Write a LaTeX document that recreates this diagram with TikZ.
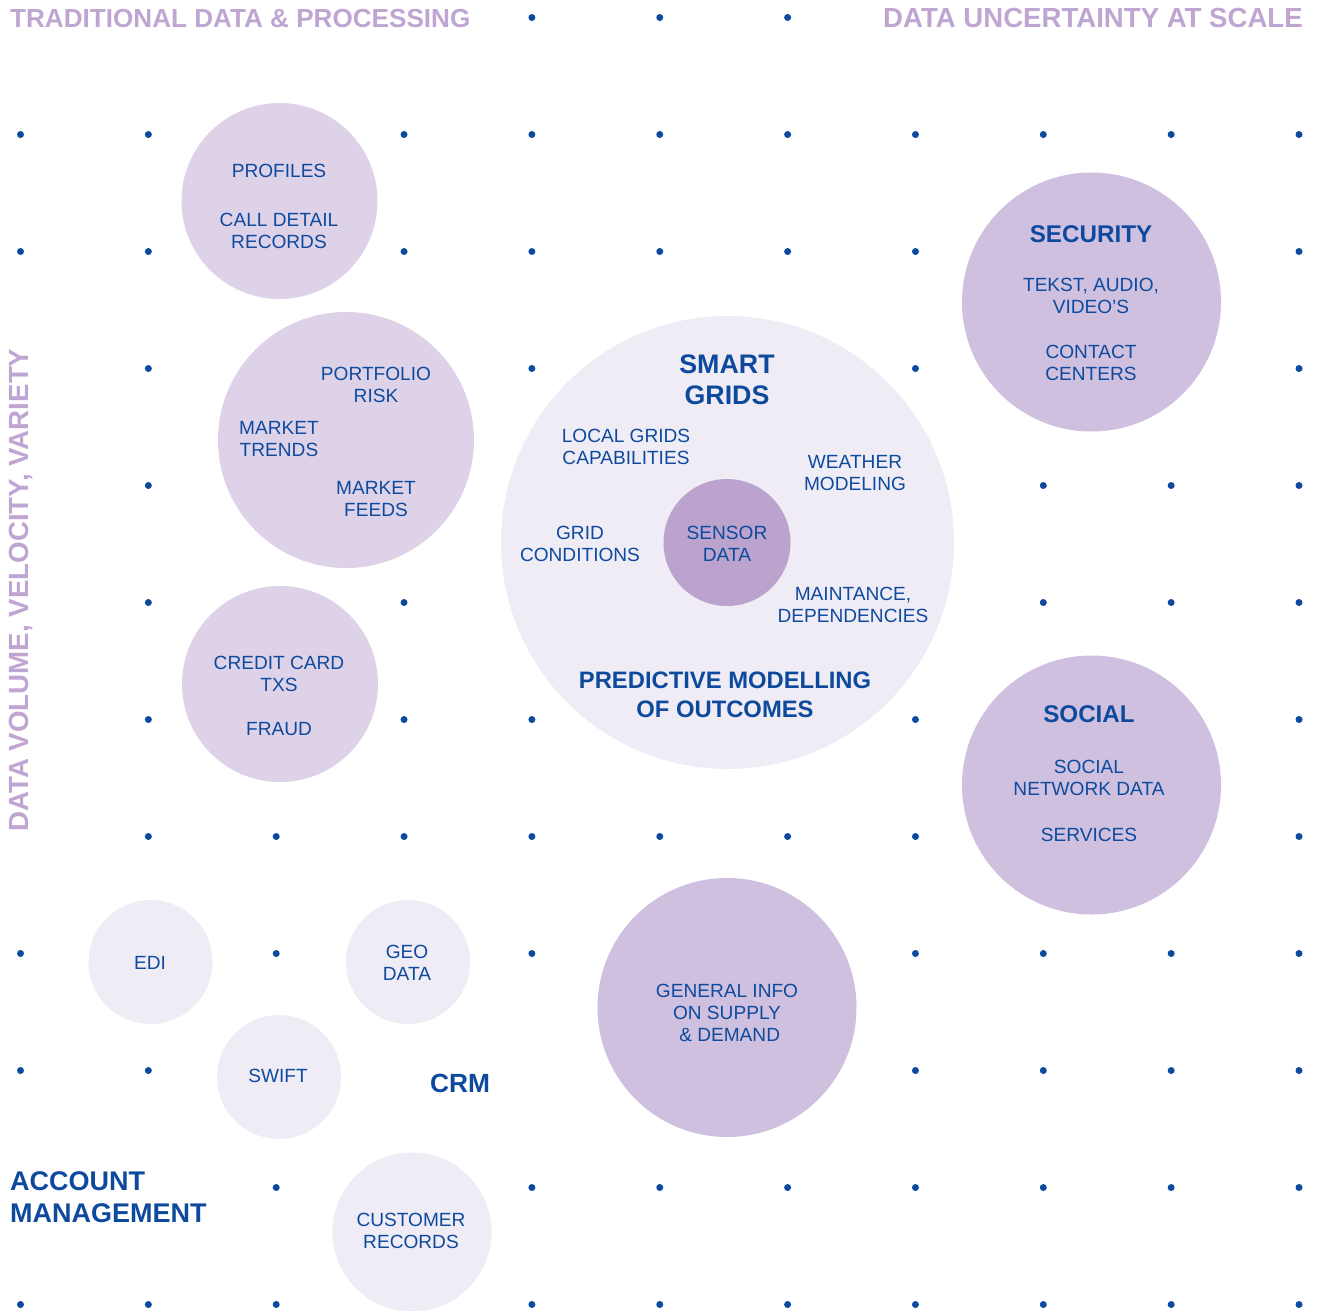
\documentclass[tikz,border=0pt]{standalone}
\usepackage{fontspec}
\setmainfont{Liberation Sans}
\definecolor{tblue}{HTML}{0D4A9E}
\definecolor{hpurple}{HTML}{BFA5D2}
\definecolor{cmid}{HTML}{DED2E9}
\definecolor{cdark}{HTML}{CFC0DF}
\definecolor{clight}{HTML}{EFECF5}
\definecolor{csensor}{HTML}{BBA3CD}
\begin{document}
\begin{tikzpicture}[x=1pt,y=-1pt,
  bubble/.style={circle,inner sep=0pt,draw=none},
  lbl/.style={text=tblue,align=center,inner sep=0pt,font=\fontsize{19.1}{22}\selectfont},
  ttl/.style={text=tblue,align=center,inner sep=0pt,font=\fontsize{24.2}{29}\selectfont\bfseries},
  hdr/.style={text=hpurple,inner sep=0pt,font=\fontsize{26.1}{30}\selectfont\bfseries},
  gdot/.style={circle,fill=tblue,inner sep=0pt,minimum size=7pt}]
\useasboundingbox (0,0) rectangle (1317,1310);
% grid dots
\foreach \j/\cols in {0/{4,5,6},1/{0,1,3,4,5,6,7,8,9,10},2/{0,1,3,4,5,6,7,10},3/{1,4,7,10},4/{1,8,9,10},5/{1,3,8,9,10},6/{1,3,4,7,10},7/{1,2,3,4,5,6,7,10},8/{0,2,4,7,8,9,10},9/{0,1,7,8,9,10},10/{2,4,5,6,7,8,9,10},11/{0,1,2,4,5,6,7,8,9,10}}{
  \foreach \i in \cols {
    \node[gdot] (d-\i-\j) at ({20.5+127.85*\i},{17.5+117*\j}) {};
  }
}
% headers
\node[hdr,anchor=base west] (hleft) at (10,27) {TRADITIONAL DATA \& PROCESSING};
\node[hdr,anchor=base east,font=\fontsize{27.6}{30}\selectfont\bfseries] (hright) at (1303,27) {DATA UNCERTAINTY AT SCALE};
\node[hdr,anchor=base west,rotate=90,font=\fontsize{27.7}{30}\selectfont\bfseries] (hvert) at (28,832) {DATA VOLUME, VELOCITY, VARIETY};
% bubbles
\node[bubble,fill=cmid,minimum size=196pt] (profiles) at (279.5,201) {};
\node[bubble,fill=cmid,minimum size=256pt] (market) at (346,440) {};
\node[bubble,fill=cmid,minimum size=196pt] (credit) at (280,684) {};
\node[bubble,fill=clight,minimum size=453pt] (smart) at (727.5,542.5) {};
\node[bubble,fill=csensor,minimum size=127pt] (sensor) at (727,542.5) {};
\node[bubble,fill=cdark,minimum size=259pt] (security) at (1091.5,302) {};
\node[bubble,fill=cdark,minimum size=259pt] (social) at (1091.5,785) {};
\node[bubble,fill=cdark,minimum size=259pt] (general) at (727,1007.5) {};
\node[bubble,fill=clight,minimum size=124pt] (edi) at (150.5,962) {};
\node[bubble,fill=clight,minimum size=124pt] (geo) at (408,962) {};
\node[bubble,fill=clight,minimum size=124pt] (swift) at (279,1077) {};
\node[bubble,fill=clight,minimum size=159pt] (customer) at (412,1232) {};
% labels
\node[lbl] (tprofiles) at (279,170.5) {PROFILES};
\node[lbl] (tcalls) at (279,231) {CALL DETAIL\\RECORDS};
\node[lbl] (tportfolio) at (376,385) {PORTFOLIO\\RISK};
\node[lbl] (ttrends) at (279,439) {MARKET\\TRENDS};
\node[lbl] (tfeeds) at (376,499) {MARKET\\FEEDS};
\node[lbl] (tcredit) at (279,674) {CREDIT CARD\\TXS};
\node[lbl] (tfraud) at (279,729) {FRAUD};
\node[ttl,font=\fontsize{26.8}{31}\selectfont\bfseries] (tsmart) at (727,380) {SMART\\GRIDS};
\node[lbl] (tlocal) at (626,447) {LOCAL GRIDS\\CAPABILITIES};
\node[lbl] (tweather) at (855,473) {WEATHER\\MODELING};
\node[lbl] (tgrid) at (580,544) {GRID\\CONDITIONS};
\node[lbl] (tsensor) at (727,544) {SENSOR\\DATA};
\node[lbl] (tmaint) at (853,605) {MAINTANCE,\\DEPENDENCIES};
\node[ttl,font=\fontsize{23.8}{29}\selectfont\bfseries] (tpredict) at (725,695) {PREDICTIVE MODELLING\\OF OUTCOMES};
\node[ttl] (tsecurity) at (1091,234) {SECURITY};
\node[lbl] (ttekst) at (1091,296) {TEKST, AUDIO,\\VIDEO’S};
\node[lbl] (tcontact) at (1091,363) {CONTACT\\CENTERS};
\node[ttl] (tsocial) at (1089,714) {SOCIAL};
\node[lbl] (tsocnet) at (1089,778) {SOCIAL\\NETWORK DATA};
\node[lbl] (tservices) at (1089,835) {SERVICES};
\node[lbl] (tgeneral) at (727,1013) {GENERAL INFO\\ON SUPPLY\\\ \& DEMAND};
\node[lbl] (tedi) at (150,963) {EDI};
\node[lbl] (tgeo) at (407,963) {GEO\\DATA};
\node[lbl] (tswift) at (278,1076) {SWIFT};
\node[ttl,font=\fontsize{26.3}{31}\selectfont\bfseries] (tcrm) at (460,1083) {CRM};
\node[ttl,align=left,anchor=west,font=\fontsize{27}{32}\selectfont\bfseries] (taccount) at (10,1197.5) {ACCOUNT\\MANAGEMENT};
\node[lbl] (tcustomer) at (411,1231) {CUSTOMER\\RECORDS};
\end{tikzpicture}
\end{document}
